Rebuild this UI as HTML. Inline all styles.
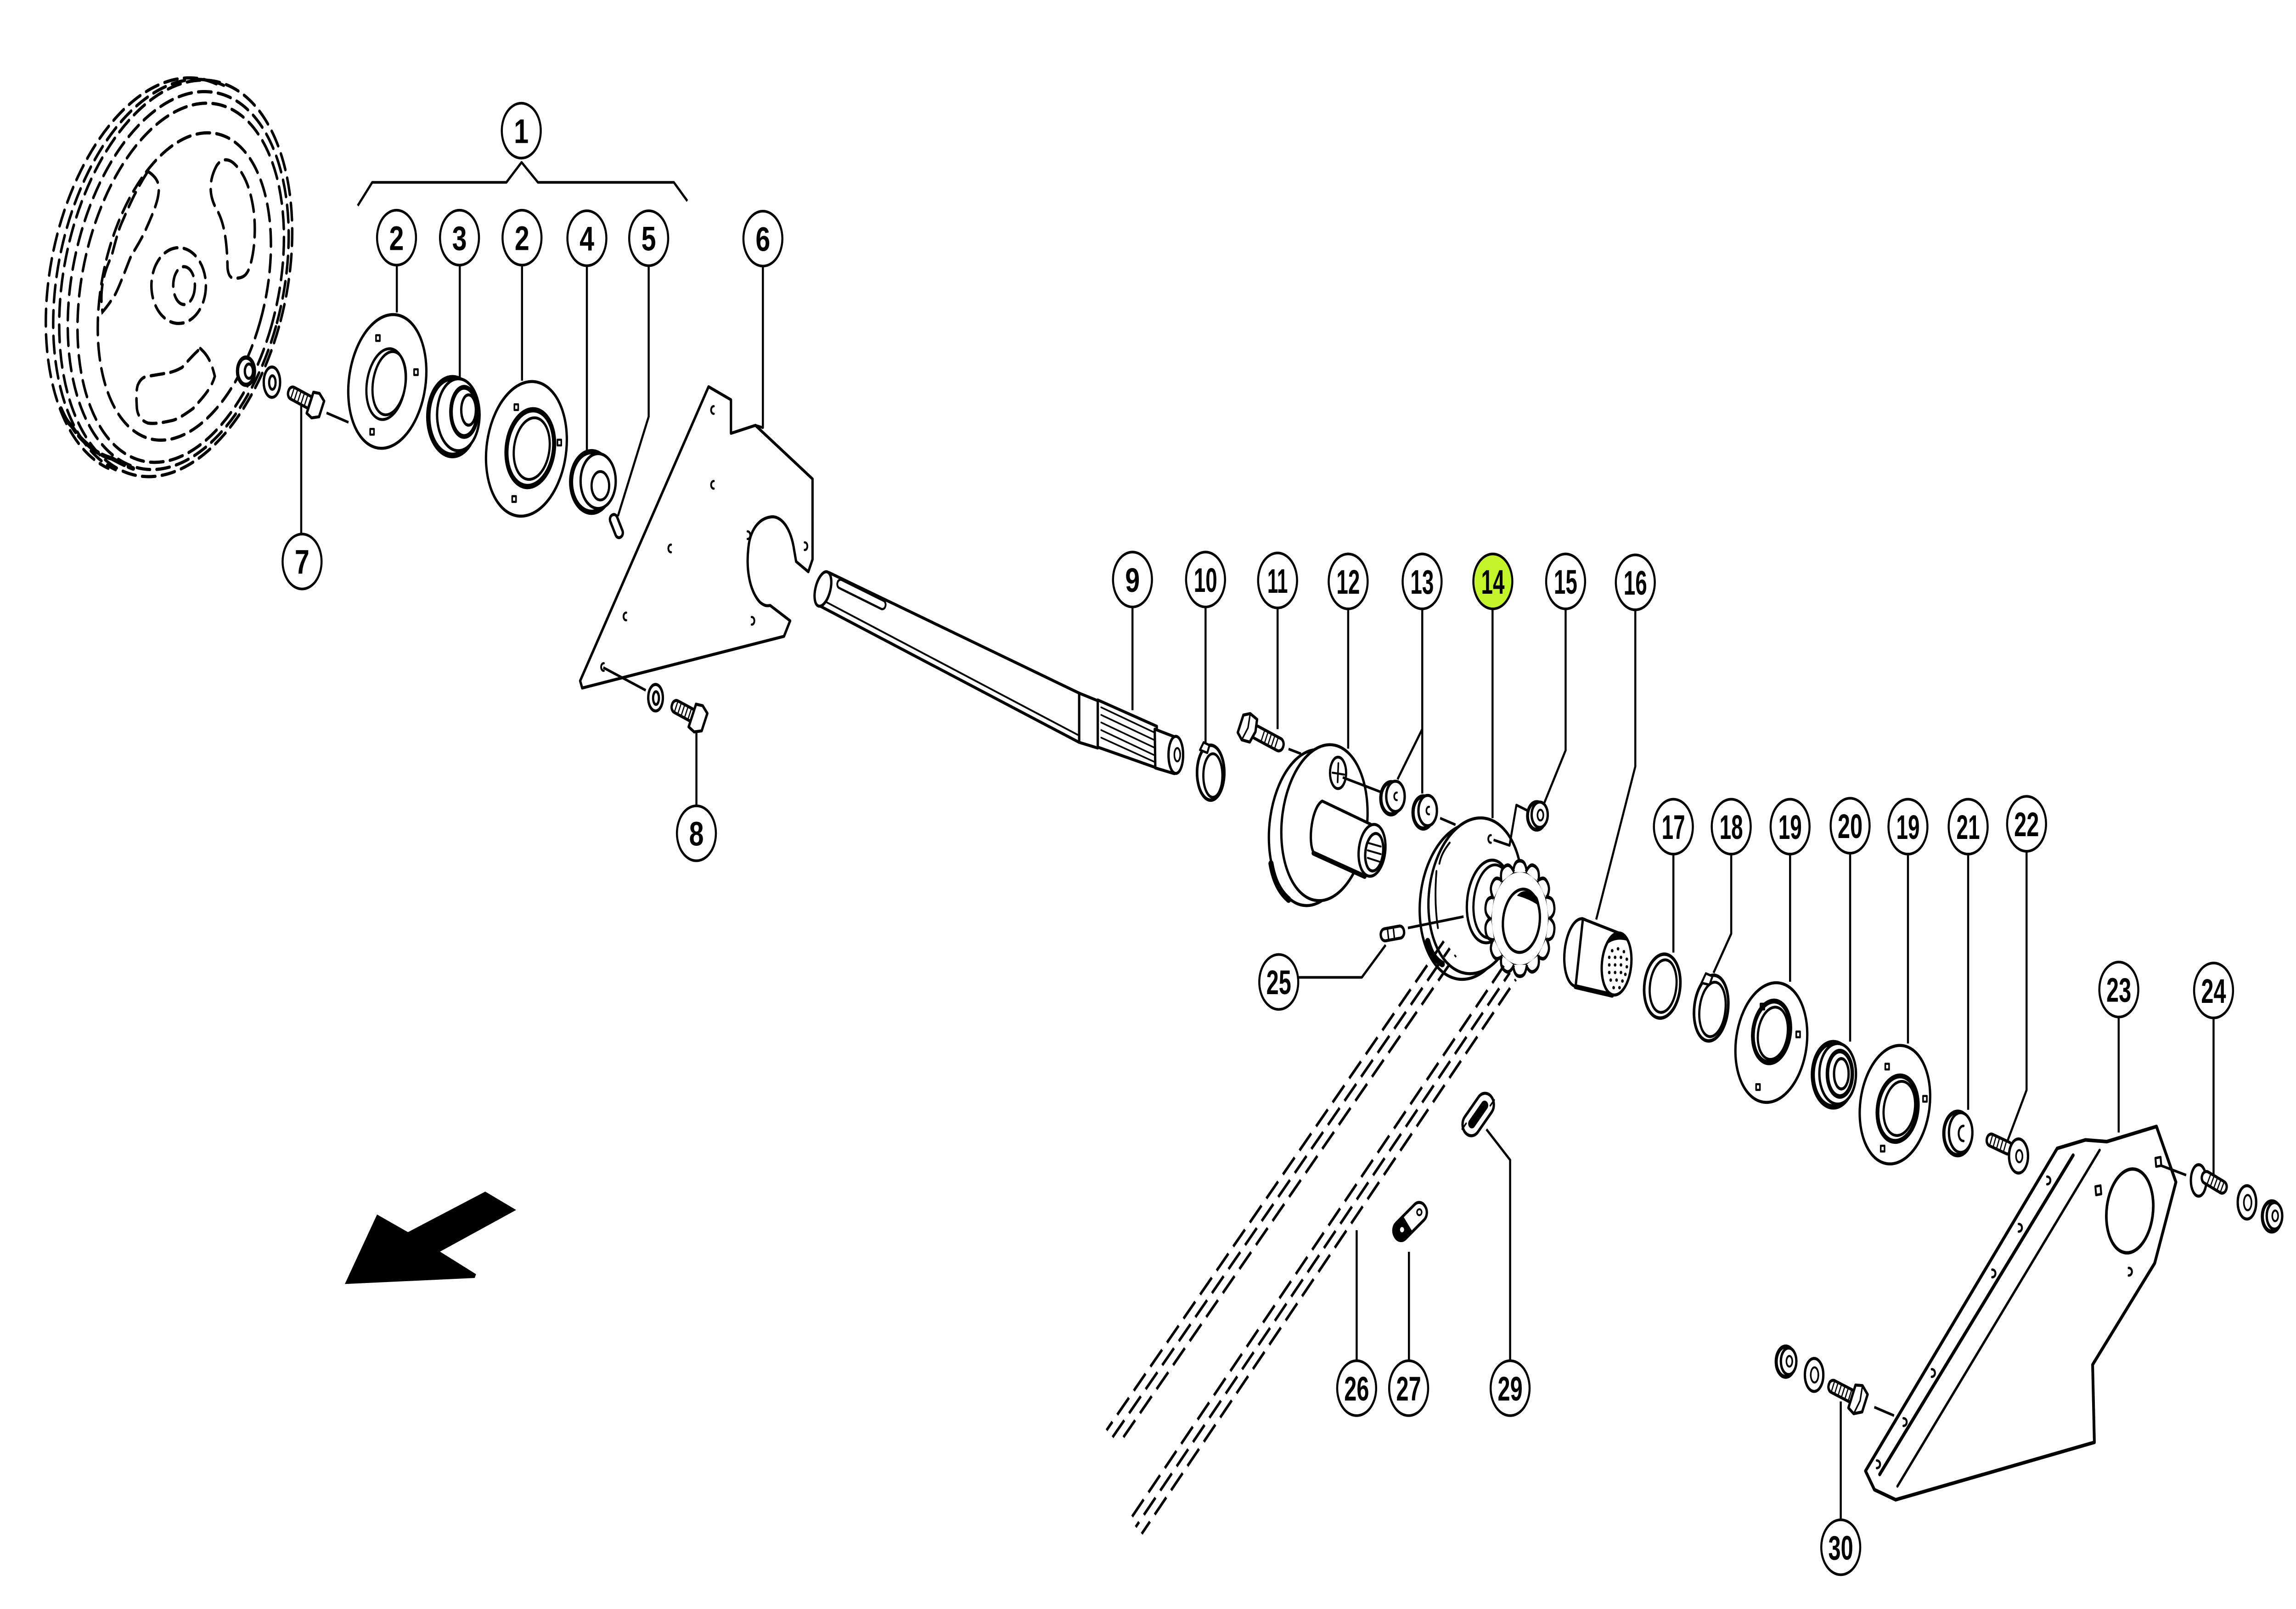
<!DOCTYPE html>
<html><head><meta charset="utf-8"><style>
html,body{margin:0;padding:0;background:#fff;overflow:hidden;width:100%;height:100%}
svg{display:block;width:100vw;height:100vh;position:absolute;left:0;top:0}
.s{fill:#fff;stroke:#000;stroke-width:1.6;stroke-linejoin:round;stroke-linecap:round}
.n{fill:none;stroke:#000;stroke-width:1.5;stroke-linecap:round;stroke-linejoin:round}
.t{fill:none;stroke:#000;stroke-width:1.4;stroke-linejoin:round}
.d{fill:none;stroke:#000;stroke-width:1.7;stroke-dasharray:9 4.5;stroke-linecap:round}
.ch{fill:none;stroke:#000;stroke-width:1.6;stroke-dasharray:12 5}
.k{fill:#000}
.lb ellipse{fill:#fff;stroke:#000;stroke-width:1.4}
.lb text{font-family:"Liberation Sans",Arial,sans-serif;font-weight:bold;font-size:18px;text-anchor:middle;fill:#000}
</style></head><body>
<svg viewBox="0 0 1568 849.6" preserveAspectRatio="none" xmlns="http://www.w3.org/2000/svg">
<rect x="0" y="0" width="1568" height="849.6" fill="#fff"/>

<!-- ===== WHEEL (dashed) ===== -->
<g class="d">
 <g transform="rotate(20 120 147)">
  <ellipse cx="120" cy="147" rx="75" ry="108"/>
  <path d="M116,40 A75,108 0 0 0 116,256"/>
  <path d="M111,41 A75,108 0 0 0 111,257"/>
  <ellipse cx="122" cy="147.5" rx="71" ry="103"/>
  <ellipse cx="124" cy="148" rx="66" ry="98"/>
  <ellipse cx="127" cy="149" rx="55" ry="84"/>
 </g>
 <path d="M148,87.4 C142,96 143,104 148,110.6 C152,116 155,124 155.4,141.5 C156,146 158,147 160.3,146.9 C165,147 168,146 170,142 C174,134 175,120 173,110 C171,100 167,91 159,85.8 C155,83.5 151,84 148,87.4 Z"/>
 <path d="M101,90.5 C106,93 109,96 108.4,101 C108,106 105,112 98.5,123 C94,130 90,134 88.6,136.9 C84,146 81,152 78.7,155.4 C75,160 72,163 70,164.7 C68,155 70,145 76.2,135.3 C79,127 81,121 83.6,116.8 C88,109 93,100 101,90.5 Z"/>
 <path d="M136.8,184 C141,187 144,190 146.7,198.7 C144,206 137,211 131.9,215.7 C126,219 122,221 118.3,221.9 C112,223 106,224 101,223.4 C96,222 94,219 93.5,215.7 C93,210 93,206 94.1,203.3 C96,200 98,199 101,198.7 C106,198 110,197.5 113.3,197.1 C118,196.5 121,195.5 124.4,194 C128,191 131,188 136.8,184 Z"/>
 <ellipse cx="122" cy="150.8" rx="18.6" ry="20"/>
 <ellipse cx="125.7" cy="150.8" rx="7.4" ry="10"/>
</g>
<path d="M41.6,215.7 C44,220 46,223 49,225 C53,230 57,233 61.4,235.8 C66,239 71,241 76.2,242 C81,244 86,246 91,247.4" fill="none" stroke="#000" stroke-width="2.4" stroke-dasharray="16 3" stroke-linecap="round"/>

<!-- nut, washer, bolt 7 -->
<ellipse class="s" cx="168" cy="196" rx="5.8" ry="7.2" style="stroke-width:2.2"/>
<ellipse class="s" cx="170" cy="196" rx="2.8" ry="3.8"/>
<ellipse class="s" cx="185.7" cy="201.8" rx="5.6" ry="8"/>
<ellipse class="n" cx="186" cy="202" rx="2.2" ry="3.6"/>
<g transform="translate(197,206.5) rotate(22.6)">
 <rect class="s" x="0" y="-3.3" width="18" height="6.6" rx="3"/>
 <path class="n" style="stroke-width:0.8" d="M3,-3 v6 M5.5,-3 v6 M8,-3 v6 M10.5,-3 v6 M13,-3 v6 M15.5,-3 v6"/>
 <path class="s" d="M16,-6 L20,-7 L24.5,-4.5 L24.5,4.5 L20,7 L16,6 Z"/>
</g>
<path class="t" d="M223,218 L238,223"/>

<!-- disc 2a -->
<g transform="rotate(14 264.5 201.4)">
 <ellipse class="s" cx="264.5" cy="201.4" rx="26" ry="35.8"/>
 <ellipse class="n" cx="264" cy="203" rx="13" ry="19"/>
 <ellipse class="n" cx="266" cy="202" rx="11" ry="17"/>
</g>
<rect class="n" x="256.8" y="177" width="2.6" height="3" style="stroke-width:1.1"/>
<rect class="n" x="282.8" y="195" width="2.6" height="3" style="stroke-width:1.1"/>
<rect class="n" x="252.8" y="226.5" width="2.6" height="3" style="stroke-width:1.1"/>

<!-- bearing 3 -->
<ellipse class="s" cx="309" cy="220" rx="16.5" ry="20.5" style="stroke-width:3"/>
<ellipse class="s" cx="313" cy="219" rx="14.5" ry="19"/>
<ellipse class="s" cx="317" cy="217.5" rx="9" ry="13" style="stroke-width:2.5"/>
<ellipse class="s" cx="320" cy="216.5" rx="5" ry="8"/>

<!-- disc 2b -->
<g transform="rotate(14 359.5 237)">
 <ellipse class="s" cx="359.5" cy="237" rx="27" ry="36"/>
 <ellipse class="s" cx="362" cy="236" rx="16" ry="20.5" style="stroke-width:2.8"/>
 <ellipse class="n" cx="363" cy="236" rx="12" ry="16.5"/>
</g>
<rect class="n" x="351.3" y="213.5" width="2.6" height="3" style="stroke-width:1.1"/>
<rect class="n" x="380.7" y="232.2" width="2.6" height="3" style="stroke-width:1.1"/>
<rect class="n" x="349.8" y="262" width="2.6" height="3" style="stroke-width:1.1"/>

<!-- collar 4 -->
<ellipse class="s" cx="404" cy="254.5" rx="14" ry="16" style="stroke-width:2.8"/>
<ellipse class="s" cx="408.5" cy="254" rx="12" ry="14.5"/>
<ellipse class="n" cx="410" cy="256.5" rx="6" ry="7.5"/>
<!-- pin 5 -->
<g transform="translate(418,272) rotate(63)"><rect class="s" x="0" y="-2.6" width="13" height="5.2" rx="2.5"/></g>

<!-- plate 6 -->
<path class="s" d="M483.9,204.2 L499.2,211.1 L499.2,228.8 L515.9,224.6 L554.9,252.9 L554.9,295.4 L552,301.9 L543.7,296.5 L542.4,290.7 C540,278 533,272 526,273 C518,274 512,280 511,290 C509.5,301 512,312 519,318 C522,320 524,320 526,319.7 L539.6,327.8 L535.4,336 L397.6,363.3 L396.2,359.5 Z"/>
<g class="n" style="stroke-width:1.2">
 <path d="M487.5,214.5 C485,214.5 485,218.5 487.5,218.5"/>
 <path d="M487.5,254 C485,254 485,258 487.5,258"/>
 <path d="M458.3,287.6 C455.8,287.6 455.8,291.6 458.3,291.6"/>
 <path d="M510.5,280.6 C513,280.6 513,284.6 510.5,284.6"/>
 <path d="M549.5,286.4 C552,286.4 552,290.4 549.5,290.4"/>
 <path d="M427.7,323.5 C425.2,323.5 425.2,327.5 427.7,327.5"/>
 <path d="M513.3,325.8 C515.8,325.8 515.8,329.8 513.3,329.8"/>
 <path d="M412.4,350.2 C409.9,350.2 409.9,354.2 412.4,354.2"/>
</g>
<path class="t" d="M412,352.5 L441,364.5"/>
<ellipse class="s" cx="447.7" cy="368.4" rx="5" ry="7"/>
<ellipse class="n" cx="448" cy="368.6" rx="2" ry="3.4"/>
<g transform="translate(459,372) rotate(22.8)">
 <rect class="s" x="0" y="-3.3" width="17" height="6.6" rx="3"/>
 <path class="n" style="stroke-width:0.8" d="M3,-3 v6 M5.5,-3 v6 M8,-3 v6 M10.5,-3 v6 M13,-3 v6"/>
 <path class="s" d="M15,-6.5 L19.5,-7.5 L24,-5 L24,5 L19.5,7.5 L15,6.5 Z"/>
</g>

<!-- shaft 9 -->
<path class="s" d="M566,302.3 L737,366 L737,392 L559.5,319.8 Z"/>
<path class="n" style="stroke-width:1" d="M562,317 L736,388"/>
<ellipse class="s" cx="562" cy="311" rx="5" ry="9.5" transform="rotate(20 562 311)"/>
<g transform="translate(572,307.5) rotate(21)"><rect class="n" x="0" y="-2.2" width="35" height="4.6" rx="2.2" style="stroke-width:1.2"/></g>
<path class="s" d="M737,366 L749.7,370 L749.7,395 L737,392 Z"/>
<path class="s" d="M749.7,369.6 L790,383.5 L790,405.5 L749.7,394.5 Z"/>
<path class="n" style="stroke-width:0.9" d="M752,373.5 L789,387 M752,377.5 L789,391 M752,381.5 L789,395 M752,385.5 L789,399 M752,389.5 L789,402.5"/>
<path class="s" d="M788.6,385 L802,389 L802,408.5 L789,405.5 Z"/>
<ellipse class="s" cx="803" cy="398.6" rx="5" ry="9.8"/>
<ellipse class="n" cx="804" cy="398.5" rx="2" ry="3.5" style="stroke-width:1.1"/>

<!-- circlip 10 -->
<ellipse class="n" cx="826.8" cy="408" rx="9.3" ry="14.5" style="stroke-width:1.8"/>
<ellipse class="n" cx="828.3" cy="409.5" rx="6.5" ry="11.5"/>
<path class="s" d="M819.5,396 L822,392 L826,393.5 L824.5,397.5 Z" style="stroke-width:1.3"/>

<!-- bolt 11 -->
<g transform="translate(852.3,384.3) rotate(22.7)">
 <rect class="s" x="3" y="-3.4" width="23" height="6.8" rx="3.2"/>
 <path class="n" style="stroke-width:0.8" d="M11,-3.2 v6.4 M13.5,-3.2 v6.4 M16,-3.2 v6.4 M18.5,-3.2 v6.4 M21,-3.2 v6.4"/>
 <path class="s" d="M-5.5,-5 L-1.5,-7.5 L4,-6.5 L5.5,0 L4,6.5 L-1.5,7.5 L-5.5,5 Z"/>
 <path class="n" style="stroke-width:1" d="M-1.5,-7.5 L0,0 L-1.5,7.5"/>
</g>
<path class="t" d="M880,395.5 L888.5,398"/>

<!-- part 12 -->
<ellipse class="s" cx="896" cy="437" rx="29" ry="41.5" transform="rotate(10 896 437)"/>
<path class="n" style="stroke-width:3.5" d="M868,456 C870,465 874,471 880,475"/>
<ellipse class="s" cx="904.5" cy="434.4" rx="29" ry="41.5" transform="rotate(10 904.5 434.4)"/>
<path class="s" d="M903,423 L936,435.2 L932,462.8 L897,450 C893,444 896,426 903,423 Z"/>
<path class="n" style="stroke-width:2.6" d="M897,450.5 L932,462.8"/>
<ellipse class="s" cx="937" cy="449" rx="9" ry="13.8" transform="rotate(10 937 449)"/>
<ellipse class="s" cx="938.5" cy="450" rx="6" ry="10" transform="rotate(10 938.5 450)"/>
<path class="n" style="stroke-width:1" d="M934,445 L943,447 M934,449 L943,451 M934,453 L942,455"/>
<ellipse class="n" cx="913.8" cy="408.1" rx="5.5" ry="8.3"/>
<path class="n" style="stroke-width:1.1" d="M910,408 L918,409 M914,403 L913.5,413"/>
<path class="t" d="M917,410.5 L944,418.5"/>

<!-- nuts 13 -->
<ellipse class="s" cx="950" cy="421.5" rx="7" ry="8.5" style="stroke-width:2.2"/>
<ellipse class="s" cx="953" cy="420.5" rx="6.3" ry="8"/>
<path class="n" style="stroke-width:1.1" d="M954,418.5 C951.5,418.5 951.5,422.5 954,422.5"/>
<ellipse class="s" cx="972" cy="429" rx="7" ry="8.5" style="stroke-width:2.2"/>
<ellipse class="s" cx="975" cy="428" rx="6.3" ry="8"/>
<path class="n" style="stroke-width:1.1" d="M976,426 C973.5,426 973.5,430 976,430"/>
<path class="t" d="M983.5,432 L994,435.5"/>

<!-- part 14 flange -->
<ellipse class="s" cx="1002" cy="476" rx="32" ry="41.5" transform="rotate(12 1002 476)"/>
<path class="n" style="stroke-width:3.5" d="M975,497 C977,503 980,507 985,509"/>
<ellipse class="s" cx="1007.5" cy="473" rx="31.5" ry="41.5" transform="rotate(12 1007.5 473)"/>
<path class="n" style="stroke-width:1.2" d="M981,460 C980,470 980,480 982,490 M990,445 C986,449 984,452 983,456"/>
<ellipse class="s" cx="1017" cy="476" rx="15" ry="22" transform="rotate(10 1017 476)"/>
<ellipse class="n" cx="1019" cy="476" rx="12.5" ry="19.5" transform="rotate(10 1019 476)"/>
<path class="n" style="stroke-width:1.2" d="M1018.2,441 C1015.8,441 1015.8,445 1018.2,445"/>
<!-- sprocket -->
<g transform="translate(1038,485) scale(24,30.5)">
 <circle cx="0" cy="0" r="0.83" fill="#fff" stroke="#000" stroke-width="0.062"/>
 <g fill="#fff" stroke="#000" stroke-width="0.062" stroke-linejoin="round">
  <path d="M-0.2,-0.8 C-0.16,-0.96 -0.1,-1 0,-1 C0.1,-1 0.16,-0.96 0.2,-0.8" transform="rotate(0)"/>
  <path d="M-0.2,-0.8 C-0.16,-0.96 -0.1,-1 0,-1 C0.1,-1 0.16,-0.96 0.2,-0.8" transform="rotate(25.71)"/>
  <path d="M-0.2,-0.8 C-0.16,-0.96 -0.1,-1 0,-1 C0.1,-1 0.16,-0.96 0.2,-0.8" transform="rotate(51.43)"/>
  <path d="M-0.2,-0.8 C-0.16,-0.96 -0.1,-1 0,-1 C0.1,-1 0.16,-0.96 0.2,-0.8" transform="rotate(77.14)"/>
  <path d="M-0.2,-0.8 C-0.16,-0.96 -0.1,-1 0,-1 C0.1,-1 0.16,-0.96 0.2,-0.8" transform="rotate(102.86)"/>
  <path d="M-0.2,-0.8 C-0.16,-0.96 -0.1,-1 0,-1 C0.1,-1 0.16,-0.96 0.2,-0.8" transform="rotate(128.57)"/>
  <path d="M-0.2,-0.8 C-0.16,-0.96 -0.1,-1 0,-1 C0.1,-1 0.16,-0.96 0.2,-0.8" transform="rotate(154.29)"/>
  <path d="M-0.2,-0.8 C-0.16,-0.96 -0.1,-1 0,-1 C0.1,-1 0.16,-0.96 0.2,-0.8" transform="rotate(180)"/>
  <path d="M-0.2,-0.8 C-0.16,-0.96 -0.1,-1 0,-1 C0.1,-1 0.16,-0.96 0.2,-0.8" transform="rotate(205.71)"/>
  <path d="M-0.2,-0.8 C-0.16,-0.96 -0.1,-1 0,-1 C0.1,-1 0.16,-0.96 0.2,-0.8" transform="rotate(231.43)"/>
  <path d="M-0.2,-0.8 C-0.16,-0.96 -0.1,-1 0,-1 C0.1,-1 0.16,-0.96 0.2,-0.8" transform="rotate(257.14)"/>
  <path d="M-0.2,-0.8 C-0.16,-0.96 -0.1,-1 0,-1 C0.1,-1 0.16,-0.96 0.2,-0.8" transform="rotate(282.86)"/>
  <path d="M-0.2,-0.8 C-0.16,-0.96 -0.1,-1 0,-1 C0.1,-1 0.16,-0.96 0.2,-0.8" transform="rotate(308.57)"/>
  <path d="M-0.2,-0.8 C-0.16,-0.96 -0.1,-1 0,-1 C0.1,-1 0.16,-0.96 0.2,-0.8" transform="rotate(334.29)"/>
 </g>
</g>
<ellipse class="s" cx="1039" cy="486.2" rx="12.5" ry="16.8" transform="rotate(10 1039 486.2)"/>
<path class="k" d="M1036,473 C1039,469.5 1046,469.5 1050,474 C1051,476 1051.5,478 1051.5,478.5 C1046,475.5 1041,474 1036,473 Z"/>

<!-- nut 15 -->
<ellipse class="s" cx="1049.5" cy="430.8" rx="6.3" ry="7.3" style="stroke-width:2"/>
<ellipse class="s" cx="1051.5" cy="430.2" rx="5.5" ry="6.7"/>
<ellipse class="n" cx="1052" cy="430.4" rx="2" ry="2.8" style="stroke-width:1.1"/>
<path class="t" d="M1044.5,428.5 L1035.6,425.1 L1030.9,446.4 L1020,443.5"/>

<!-- grease nipple 25 -->
<g transform="translate(943,494) rotate(-8)">
 <rect class="s" x="0" y="-3.2" width="16" height="6.4" rx="3"/>
 <path class="n" style="stroke-width:1" d="M5,-3 v6 M9,-3 v6"/>
</g>
<path class="t" d="M961.5,490 L999.5,484"/>

<!-- bushing 16 -->
<ellipse class="s" cx="1078.5" cy="503" rx="10" ry="18" transform="rotate(8 1078.5 503)"/>
<path class="s" d="M1081,485.2 L1106,492.8 L1101,525.5 L1076,521 Z" style="stroke-linejoin:miter"/>
<path class="n" style="stroke-width:2.6" d="M1076,521 L1101,525.5"/>
<ellipse class="s" cx="1104" cy="509" rx="10" ry="16.5" transform="rotate(8 1104 509)"/>
<path class="k" d="M1097,499 C1100,491 1108,490 1112,497 C1107,495.5 1101,496 1097,499 Z"/>
<g class="k">
 <circle cx="1101" cy="502" r="0.9"/><circle cx="1105" cy="501" r="0.9"/><circle cx="1109" cy="502.5" r="0.9"/>
 <circle cx="1099" cy="505.5" r="0.9"/><circle cx="1103" cy="505.5" r="0.9"/><circle cx="1107" cy="505.5" r="0.9"/><circle cx="1111" cy="506.5" r="0.9"/>
 <circle cx="1099" cy="509.5" r="0.9"/><circle cx="1103" cy="509.5" r="0.9"/><circle cx="1107" cy="509.5" r="0.9"/><circle cx="1111" cy="510.5" r="0.9"/>
 <circle cx="1099" cy="513.5" r="0.9"/><circle cx="1103" cy="513.5" r="0.9"/><circle cx="1107" cy="513.5" r="0.9"/><circle cx="1110" cy="514.5" r="0.9"/>
 <circle cx="1100" cy="517.5" r="0.9"/><circle cx="1104" cy="517.5" r="0.9"/><circle cx="1108" cy="518" r="0.9"/>
 <circle cx="1102" cy="521.5" r="0.9"/><circle cx="1106" cy="521.5" r="0.9"/>
</g>

<!-- ring 17 -->
<ellipse class="n" cx="1135.2" cy="520.7" rx="12.2" ry="17" transform="rotate(10 1135.2 520.7)" style="stroke-width:1.8"/>
<ellipse class="n" cx="1135.8" cy="520.7" rx="9" ry="14" transform="rotate(10 1135.8 520.7)"/>
<!-- circlip 18 -->
<ellipse class="n" cx="1168.6" cy="532.3" rx="11.5" ry="17.5" transform="rotate(10 1168.6 532.3)" style="stroke-width:1.8"/>
<ellipse class="n" cx="1169.5" cy="533" rx="8.8" ry="14.5" transform="rotate(10 1169.5 533)"/>
<path class="s" d="M1162,519 L1165,514 L1169.5,515.5 L1167.5,520 Z" style="stroke-width:1.3"/>

<!-- disc 19a -->
<g transform="rotate(14 1209.7 550.5)">
 <ellipse class="s" cx="1209.7" cy="550.5" rx="24" ry="32"/>
 <ellipse class="s" cx="1208.5" cy="545" rx="12.5" ry="16.5" style="stroke-width:2.6"/>
 <ellipse class="n" cx="1209.5" cy="545.5" rx="10" ry="14"/>
</g>
<rect class="n" x="1202.3" y="530" width="2.6" height="3" style="stroke-width:1.1"/>
<rect class="n" x="1226.7" y="544.7" width="2.6" height="3" style="stroke-width:1.1"/>
<rect class="n" x="1199.3" y="572.5" width="2.6" height="3" style="stroke-width:1.1"/>

<!-- bearing 20 -->
<ellipse class="s" cx="1252" cy="567.5" rx="14" ry="17" style="stroke-width:2.8"/>
<ellipse class="s" cx="1255" cy="567" rx="12.5" ry="16"/>
<ellipse class="s" cx="1256.5" cy="567" rx="8.5" ry="12" style="stroke-width:2.4"/>
<ellipse class="s" cx="1257.5" cy="567" rx="5" ry="8"/>

<!-- disc 19b -->
<g transform="rotate(14 1294.1 583.3)">
 <ellipse class="s" cx="1294.1" cy="583.3" rx="23.5" ry="31.7"/>
 <ellipse class="s" cx="1296.4" cy="584.9" rx="13.5" ry="17.5" style="stroke-width:2.6"/>
 <ellipse class="n" cx="1297.5" cy="584.5" rx="10.5" ry="14.5"/>
</g>
<rect class="n" x="1287.5" y="561.7" width="2.6" height="3" style="stroke-width:1.1"/>
<rect class="n" x="1313.3" y="578.7" width="2.6" height="3" style="stroke-width:1.1"/>
<rect class="n" x="1284.4" y="605" width="2.6" height="3" style="stroke-width:1.1"/>

<!-- washer 21 -->
<ellipse class="s" cx="1337" cy="598.5" rx="9.5" ry="11.5" style="stroke-width:2.2"/>
<ellipse class="s" cx="1339" cy="598" rx="8" ry="10.5"/>
<path class="n" style="stroke-width:1.3" d="M1341,594.5 C1336.5,594.5 1336.5,602.5 1341,602.5"/>

<!-- bolt 22 -->
<g transform="translate(1357,601) rotate(20)">
 <rect class="s" x="0" y="-3.2" width="18" height="6.4" rx="3"/>
 <path class="n" style="stroke-width:0.8" d="M3,-3 v6 M5.5,-3 v6 M8,-3 v6 M10.5,-3 v6 M13,-3 v6"/>
</g>
<ellipse class="s" cx="1378.5" cy="610.4" rx="6.5" ry="9"/>
<ellipse class="n" cx="1379" cy="610.5" rx="2.2" ry="3.2" style="stroke-width:1.1"/>

<!-- plate 23 -->
<path class="s" d="M1404.9,606.4 L1424.2,601.9 L1438.8,602.8 L1472.7,594.8 L1486,624.2 L1471.5,667 L1429.1,720.6 L1430.3,761.6 L1294.6,791.9 L1280.1,786.6 L1274,776.7 Z" style="stroke-width:1.9"/>
<path class="n" style="stroke-width:2" d="M1415.8,610 L1283.7,778.5"/>
<path class="n" d="M1433.9,607.3 L1295.8,784.8"/>
<ellipse class="n" cx="1454.5" cy="639.4" rx="15.8" ry="22.3" transform="rotate(10 1454.5 639.4)" style="stroke-width:1.8"/>
<path class="n" style="stroke-width:1.3" d="M1431,626.5 L1434.5,626 L1435,630.5 L1431.5,631 Z M1472,611.5 L1475.5,611 L1476,615.5 L1472.5,616 Z"/>
<g class="n" style="stroke-width:1.3">
 <path d="M1398,621.3 C1401,621.3 1401,625.3 1398,625.3"/>
 <path d="M1378.6,646.3 C1381.6,646.3 1381.6,650.3 1378.6,650.3"/>
 <path d="M1360.5,670.4 C1363.5,670.4 1363.5,674.4 1360.5,674.4"/>
 <path d="M1319.2,723 C1322.2,723 1322.2,727 1319.2,727"/>
 <path d="M1299.9,748.9 C1302.9,748.9 1302.9,752.9 1299.9,752.9"/>
 <path d="M1281.7,771.2 C1284.7,771.2 1284.7,775.2 1281.7,775.2"/>
 <path d="M1453.7,669.5 C1456.7,669.5 1456.7,673.5 1453.7,673.5"/>
</g>

<!-- bolt 24 set -->
<path class="t" d="M1476,615.5 L1493,620.5"/>
<ellipse class="s" cx="1501.5" cy="623.3" rx="5.3" ry="8.3"/>
<g transform="translate(1504,620.5) rotate(25)">
 <rect class="s" x="0" y="-3.2" width="18" height="6.4" rx="3"/>
 <path class="n" style="stroke-width:0.8" d="M5,-3 v6 M7.5,-3 v6 M10,-3 v6 M12.5,-3 v6 M15,-3 v6"/>
</g>
<ellipse class="s" cx="1534.5" cy="634.9" rx="6.3" ry="8.8"/>
<ellipse class="n" cx="1535" cy="635" rx="2.6" ry="4" style="stroke-width:1.1"/>
<ellipse class="s" cx="1551.5" cy="642.3" rx="6.5" ry="8" style="stroke-width:2.1"/>
<ellipse class="s" cx="1553.3" cy="642" rx="5.3" ry="7"/>
<ellipse class="n" cx="1553.8" cy="642" rx="2" ry="2.8" style="stroke-width:1.1"/>

<!-- bolt 30 set -->
<ellipse class="s" cx="1219.5" cy="719" rx="6.5" ry="8" style="stroke-width:2.1"/>
<ellipse class="s" cx="1221.5" cy="718.8" rx="5.3" ry="7"/>
<ellipse class="n" cx="1222" cy="718.8" rx="2" ry="2.8" style="stroke-width:1.1"/>
<ellipse class="s" cx="1238.9" cy="726" rx="6.3" ry="8.7"/>
<ellipse class="n" cx="1239.2" cy="726" rx="2.6" ry="4" style="stroke-width:1.1"/>
<g transform="translate(1249,731) rotate(22)">
 <rect class="s" x="0" y="-3.3" width="19" height="6.6" rx="3"/>
 <path class="n" style="stroke-width:0.8" d="M3,-3 v6 M5.5,-3 v6 M8,-3 v6 M10.5,-3 v6 M13,-3 v6 M15.5,-3 v6"/>
 <path class="s" d="M17,-6.5 L21.5,-8 L26.5,-5 L26.5,5 L21.5,8 L17,6.5 Z"/>
 <path class="n" style="stroke-width:1" d="M21.5,-8 L23,0 L21.5,8"/>
</g>
<path class="t" d="M1280,743 L1293.5,747.5"/>

<!-- chain strands -->
<path class="ch" d="M986,497 L755.7,755.2"/>
<path class="ch" style="stroke-dashoffset:6" d="M990.1,500.7 L759.8,758.9"/>
<path class="ch" style="stroke-dashoffset:11" d="M994.2,504.4 L763.9,762.6"/>
<path class="ch" d="M1027,510 L771.5,802.7"/>
<path class="ch" style="stroke-dashoffset:6" d="M1031.1,513.6 L775.6,806.3"/>
<path class="ch" style="stroke-dashoffset:11" d="M1035.2,517.2 L779.7,809.9"/>

<!-- link 27 -->
<g transform="translate(963,645) rotate(-38)">
 <rect class="s" x="-13" y="-5.2" width="26" height="10.4" rx="5"/>
 <path class="k" d="M-11,-4.5 L-2,-4.5 L-2,4.5 L-11,4.5 C-13,2 -13,-2 -11,-4.5 Z"/>
 <circle cx="8" cy="0" r="1.6" fill="#fff" stroke="#000" stroke-width="1"/>
 <circle cx="-7" cy="0" r="1.4" fill="#fff"/>
</g>
<!-- link 29 -->
<g transform="translate(1009.5,588.5) rotate(-48)">
 <rect class="s" x="-13" y="-6" width="26" height="12" rx="6"/>
 <rect class="k" x="-9" y="-2.5" width="18" height="5" rx="2.5"/>
 <path class="n" style="stroke-width:1" d="M-13,-3 L-9,-3 M9,3 L13,3"/>
</g>

<!-- arrow -->
<path class="k" d="M235.5,678 L257.5,641.3 L278.6,650.6 L331.4,629.2 L352.5,638.9 L300.5,660.9 L325.1,672.8 L324.2,674.8 Z"/>

<!-- ===== LEADERS ===== -->
<path class="t" d="M244.3,108.6 L254.2,96.3 L345.8,96.3 L356.2,85.7 L367.4,96.3 L460.2,96.3 L469.4,106.1"/>
<path class="t" d="M271,140.5 L271,165
M314,140.5 L314,199.5
M356.5,140.5 L356.5,201
M400.8,140.5 L400.8,238
M443,140.5 L443,220 L422,272.5
M521,140.5 L521,225.8 L516,224.6
M205.7,213.5 L205.7,282.5
M475.6,386 L475.6,425.5
M773.4,320.5 L773.4,375
M823.3,320.5 L823.3,392
M872.5,321 L872.5,385
M920.7,321.5 L920.7,395.3
M971.3,321.5 L971.3,385 L954.4,411.5 M971.3,385 L971.3,419
M1019.3,321.5 L1019.3,432
M1069.2,321.5 L1069.2,396.2 L1054.1,425
M1116.8,322 L1116.8,404.7 L1090.1,485.5
M1142.8,451 L1142.8,503
M1182.3,451 L1182.3,493 L1170.2,513.7
M1222.5,451 L1222.5,518.4
M1263.5,450.5 L1263.5,550
M1303,451 L1303,551
M1344.1,451 L1344.1,586
M1384,449.5 L1384,575.6 L1370.9,602.6
M1446.9,537 L1446.9,598
M1511.7,537.5 L1511.7,621
M887,516.1 L930,516.1 L946.3,499
M926.5,649.6 L926.5,719
M962.2,661 L962.2,719
M1015.1,596.3 L1031.3,612.5 L1031.3,719
M1257.1,740 L1257.1,802.5"/>

<!-- ===== LABELS ===== -->
<g class="lb">
<ellipse cx="356" cy="69" rx="13.3" ry="14.5"/><text x="356" y="75.5">1</text>
<ellipse cx="270.8" cy="125.5" rx="13.3" ry="14.5"/><text x="270.8" y="132">2</text>
<ellipse cx="313.8" cy="125.5" rx="13.3" ry="14.5"/><text x="313.8" y="132">3</text>
<ellipse cx="356.5" cy="125.5" rx="13.3" ry="14.5"/><text x="356.5" y="132">2</text>
<ellipse cx="400.8" cy="125.8" rx="13.3" ry="14.5"/><text x="400.8" y="132.3">4</text>
<ellipse cx="443" cy="125.8" rx="13.3" ry="14.5"/><text x="443" y="132.3">5</text>
<ellipse cx="521" cy="126" rx="13.3" ry="14.5"/><text x="521" y="132.5">6</text>
<ellipse cx="206.3" cy="296.5" rx="13.3" ry="14.5"/><text x="206.3" y="303">7</text>
<ellipse cx="475.6" cy="440" rx="13.3" ry="14.5"/><text x="475.6" y="446.5">8</text>
<ellipse cx="773.4" cy="306" rx="13.3" ry="14.5"/><text x="773.4" y="312.5">9</text>
<ellipse cx="823.3" cy="306" rx="13.3" ry="14.5"/><text x="823.3" y="312.5" textLength="16" lengthAdjust="spacingAndGlyphs">10</text>
<ellipse cx="872.5" cy="306.5" rx="13.3" ry="14.5"/><text x="872.5" y="313" textLength="14" lengthAdjust="spacingAndGlyphs">11</text>
<ellipse cx="920.7" cy="307" rx="13.3" ry="14.5"/><text x="920.7" y="313.5" textLength="16" lengthAdjust="spacingAndGlyphs">12</text>
<ellipse cx="971.2" cy="307" rx="13.3" ry="14.5"/><text x="971.2" y="313.5" textLength="16" lengthAdjust="spacingAndGlyphs">13</text>
<ellipse cx="1019.5" cy="307" rx="13.3" ry="14.5" style="fill:#c3f52a"/><text x="1019.5" y="313.5" textLength="16" lengthAdjust="spacingAndGlyphs">14</text>
<ellipse cx="1069.2" cy="307" rx="13.3" ry="14.5"/><text x="1069.2" y="313.5" textLength="16" lengthAdjust="spacingAndGlyphs">15</text>
<ellipse cx="1116.8" cy="307.5" rx="13.3" ry="14.5"/><text x="1116.8" y="314" textLength="16" lengthAdjust="spacingAndGlyphs">16</text>
<ellipse cx="1142.8" cy="436.5" rx="13.3" ry="14.5"/><text x="1142.8" y="443" textLength="16" lengthAdjust="spacingAndGlyphs">17</text>
<ellipse cx="1182.3" cy="436.5" rx="13.3" ry="14.5"/><text x="1182.3" y="443" textLength="16" lengthAdjust="spacingAndGlyphs">18</text>
<ellipse cx="1222.5" cy="436.5" rx="13.3" ry="14.5"/><text x="1222.5" y="443" textLength="16" lengthAdjust="spacingAndGlyphs">19</text>
<ellipse cx="1263.5" cy="436" rx="13.3" ry="14.5"/><text x="1263.5" y="442.5" textLength="17" lengthAdjust="spacingAndGlyphs">20</text>
<ellipse cx="1303" cy="436.5" rx="13.3" ry="14.5"/><text x="1303" y="443" textLength="16" lengthAdjust="spacingAndGlyphs">19</text>
<ellipse cx="1344.1" cy="436.5" rx="13.3" ry="14.5"/><text x="1344.1" y="443" textLength="16" lengthAdjust="spacingAndGlyphs">21</text>
<ellipse cx="1384" cy="435" rx="13.3" ry="14.5"/><text x="1384" y="441.5" textLength="17" lengthAdjust="spacingAndGlyphs">22</text>
<ellipse cx="1447" cy="522.5" rx="13.3" ry="14.5"/><text x="1447" y="529" textLength="17" lengthAdjust="spacingAndGlyphs">23</text>
<ellipse cx="1511.7" cy="523" rx="13.3" ry="14.5"/><text x="1511.7" y="529.5" textLength="17" lengthAdjust="spacingAndGlyphs">24</text>
<ellipse cx="873.3" cy="518.5" rx="13.3" ry="14.5"/><text x="873.3" y="525" textLength="17" lengthAdjust="spacingAndGlyphs">25</text>
<ellipse cx="926.5" cy="733" rx="13.3" ry="14.5"/><text x="926.5" y="739.5" textLength="17" lengthAdjust="spacingAndGlyphs">26</text>
<ellipse cx="962" cy="733" rx="13.3" ry="14.5"/><text x="962" y="739.5" textLength="17" lengthAdjust="spacingAndGlyphs">27</text>
<ellipse cx="1031.3" cy="733" rx="13.3" ry="14.5"/><text x="1031.3" y="739.5" textLength="17" lengthAdjust="spacingAndGlyphs">29</text>
<ellipse cx="1257.1" cy="817" rx="13.3" ry="14.5"/><text x="1257.1" y="823.5" textLength="17" lengthAdjust="spacingAndGlyphs">30</text>
</g>
</svg>
</body></html>
